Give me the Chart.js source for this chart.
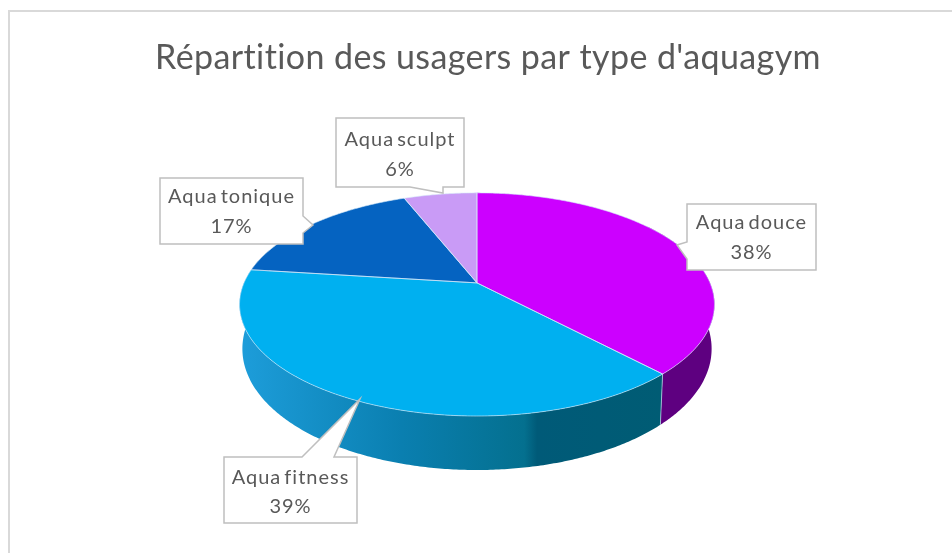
<!DOCTYPE html>
<html><head><meta charset="utf-8">
<style>html,body{margin:0;padding:0;background:#fff}canvas{display:block;filter:blur(0.4px)}</style>
<script src="https://cdn.jsdelivr.net/npm/chart.js@4"></script></head>
<body><canvas id="c" width="952" height="553"></canvas>
<script>
const categories = ["Aqua douce", "Aqua fitness", "Aqua tonique", "Aqua sculpt"];
const shares = [38, 39, 17, 6];
const topColors = ["#cc00ff", "#00b0f0", "#0563c1", "#c99bf6"];
const titleText = "Répartition des usagers par type d'aquagym";

const SQUASH = 0.461, PERSP = -0.193;
const wallStops = [
  [[0, "#5e0080"], [1, "#55007a"]],
  [[0, "#005c74"], [0.30, "#005a78"], [0.33, "#04708f"], [0.62, "#0a7fb0"], [1, "#1d9dda"]],
  [[0, "#0b56a8"], [1, "#0b56a8"]],
  [[0, "#a070d0"], [1, "#a070d0"]]
];
const callouts = [
  {box:[687,204,816,270], ptr:[[687,242],[677,245],[687,259]], y:[223,253]},
  {box:[224,457,357,523], ptr:[[302,457],[360,399],[334,457]], y:[478,507]},
  {box:[160,178,303,244], ptr:[[303,216],[313,225],[303,233]], y:[197,227]},
  {box:[336,118,464,187], ptr:[[410,187],[443,193],[443,187]], y:[140,170]}
];
function project(arc, angle, wall) {
  const th = angle + Math.PI/2, u = Math.sin(th), v = -Math.cos(th), d = 1 + PERSP*v;
  const R = arc.outerRadius;
  let x = arc.x + R*u/d, y = arc.y + R*SQUASH*v/d;
  if (wall) { x = arc.x + (x-arc.x)*0.988; y += 42 + 12*v; }
  return [x, y];
}
function samples(a0, a1) {
  const n = Math.max(2, Math.ceil(Math.abs(a1-a0)/0.01)), r = [];
  for (let i=0;i<=n;i++) r.push(a0+(a1-a0)*i/n);
  return r;
}
const pie3d = {
  id:"pie3d",
  afterLayout(chart){ const t=chart.titleBlock; t.left+=11; t.right+=11; },
  beforeDraw(chart){
    const c=chart.ctx; c.save(); c.strokeStyle="#d9d9d9"; c.lineWidth=2;
    c.beginPath(); c.moveTo(9,553); c.lineTo(9,11); c.lineTo(952,11); c.stroke(); c.restore();
    c.letterSpacing="0.4px";
  },
  beforeDatasetDraw(chart){
    const c=chart.ctx, arcs=chart.getDatasetMeta(0).data;
    const lo=-Math.PI/2+Math.PI*0.3, hi=-Math.PI/2+Math.PI*1.6;
    arcs.forEach((arc,i)=>{
      const a0=Math.max(arc.startAngle,lo), a1=Math.min(arc.endAngle,hi);
      if(a1<=a0) return;
      const pts=samples(a0,a1);
      c.beginPath();
      pts.forEach((a,j)=>{const p=project(arc,a,false); j?c.lineTo(p[0],p[1]):c.moveTo(p[0],p[1]);});
      pts.slice().reverse().forEach(a=>{const p=project(arc,a,true); c.lineTo(p[0],p[1]);});
      c.closePath();
      const g=c.createLinearGradient(664,0,241,0);
      wallStops[i].forEach(s=>g.addColorStop(s[0],s[1]));
      c.fillStyle=g; c.fill();
    });
    const seam=arcs[0], s0=project(seam,seam.endAngle,false), s1=project(seam,seam.endAngle,true);
    c.strokeStyle="rgba(190,220,235,.7)"; c.lineWidth=1;
    c.beginPath(); c.moveTo(s0[0],s0[1]); c.lineTo(s1[0],s1[1]); c.stroke();
    arcs.forEach((arc,i)=>{
      c.beginPath(); c.moveTo(arc.x,arc.y);
      samples(arc.startAngle,arc.endAngle).forEach(a=>{const p=project(arc,a,false); c.lineTo(p[0],p[1]);});
      c.closePath(); c.fillStyle=topColors[i]; c.fill();
    });
    arcs.forEach(arc=>{
      c.beginPath(); c.moveTo(arc.x,arc.y);
      samples(arc.startAngle,arc.endAngle).forEach(a=>{const p=project(arc,a,false); c.lineTo(p[0],p[1]);});
      c.closePath(); c.strokeStyle="rgba(215,235,250,.6)"; c.lineWidth=1; c.stroke();
    });
    return false;
  },
  afterDatasetsDraw(chart){
    const c=chart.ctx;
    callouts.forEach((k,i)=>{
      const [l,t,r,b]=k.box;
      c.save();
      c.beginPath(); c.moveTo(l,t);
      const onRight=k.ptr[0][0]===r, onBottom=k.ptr[0][1]===b, onLeft=k.ptr[0][0]===l, onTop=k.ptr[0][1]===t;
      if(onTop) k.ptr.forEach(p=>c.lineTo(p[0],p[1]));
      c.lineTo(r,t);
      if(onRight) k.ptr.forEach(p=>c.lineTo(p[0],p[1]));
      c.lineTo(r,b);
      if(onBottom) k.ptr.slice().reverse().forEach(p=>c.lineTo(p[0],p[1]));
      c.lineTo(l,b);
      if(onLeft) k.ptr.slice().reverse().forEach(p=>c.lineTo(p[0],p[1]));
      c.closePath();
      c.fillStyle="#fff"; c.fill();
      c.strokeStyle="#bfbfbf"; c.lineWidth=1.5; c.stroke();
      c.fillStyle="#595959"; c.font='20px Lato'; c.textAlign="center"; c.textBaseline="middle";
      c.letterSpacing="1px"; c.wordSpacing="-3px";
      c.fillText(categories[i],(l+r)/2,k.y[0]);
      c.fillText(shares[i]+"%",(l+r)/2,k.y[1]);
      c.restore();
    });
  }
};
new Chart(document.getElementById("c"),{
  type:"pie",
  plugins:[pie3d],
  data:{labels:categories,datasets:[{data:shares,backgroundColor:topColors,borderWidth:0}]},
  options:{
    responsive:false,animation:false,radius:233,
    layout:{padding:{left:2,right:0,top:0,bottom:66}},
    plugins:{
      legend:{display:false},tooltip:{enabled:false},
      title:{display:true,text:titleText,color:"#595959",
        font:{family:"Lato",size:34,weight:"normal",lineHeight:1.2},
        padding:{top:38,bottom:0}}
    }
  }
});
</script></body></html>
